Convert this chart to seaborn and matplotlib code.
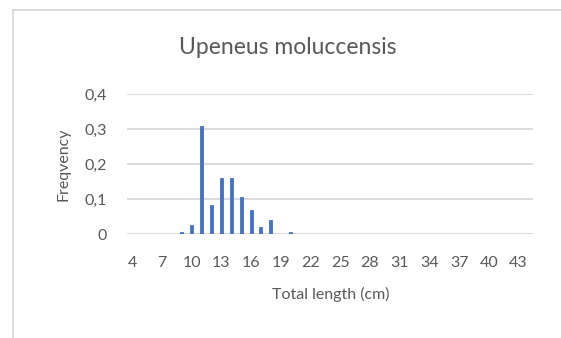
import matplotlib
matplotlib.use("Agg")
import matplotlib.pyplot as plt
import seaborn as sns
import pandas as pd

# Length classes (cm) and relative frequency of each class
lengths = list(range(4, 45))
frequency = [
    0, 0, 0, 0, 0, 0.006, 0.027, 0.309, 0.084, 0.161,   # 4-13
    0.161, 0.105, 0.069, 0.020, 0.041, 0, 0.006, 0, 0, 0,  # 14-23
    0, 0, 0, 0, 0, 0, 0, 0, 0, 0,                        # 24-33
    0, 0, 0, 0, 0, 0, 0, 0, 0, 0, 0,                     # 34-44
]
y_ticks = [0, 0.1, 0.2, 0.3, 0.4]
y_tick_labels = ["0", "0,1", "0,2", "0,3", "0,4"]
title = "Upeneus moluccensis"
x_label = "Total length (cm)"
y_label = "Freqvency"

sns.set_theme(style="white")
plt.rcParams["font.family"] = ["Lato", "DejaVu Sans"]

text_color = "#595959"
grid_color = "#D9D9D9"
bar_color = "#4472C4"

df = pd.DataFrame({"length": [str(v) for v in lengths], "freq": frequency})

fig = plt.figure(figsize=(5.61, 3.38), dpi=100)
ax = fig.add_axes([0.2269, 0.3068, 0.9506 - 0.2269, 0.7219 - 0.3068])

sns.barplot(data=df, x="length", y="freq", order=df["length"], color=bar_color,
            width=0.3, saturation=1, linewidth=0.6, edgecolor=bar_color,
            ax=ax, zorder=3)

ax.set_xlim(-0.5, len(lengths) - 0.5)
ax.set_ylim(0, 0.4)
ax.set_yticks(y_ticks)
ax.set_yticklabels(y_tick_labels)

# label every third length class
tick_pos = list(range(0, len(lengths), 3))
ax.set_xticks(tick_pos)
ax.set_xticklabels([str(lengths[i]) for i in tick_pos])

for y in y_ticks:
    ax.axhline(y, color=grid_color, linewidth=1.3, zorder=1)

for side in ["top", "right", "left", "bottom"]:
    ax.spines[side].set_visible(False)

ax.tick_params(axis="both", length=0, labelsize=11.5, labelcolor=text_color)
ax.tick_params(axis="y", pad=14.5)
ax.tick_params(axis="x", pad=15.5)

ax.set_xlabel(x_label, fontsize=11.5, color=text_color, labelpad=12)
ax.set_ylabel(y_label, fontsize=11.5, color=text_color, labelpad=10)
fig.text(0.513, 0.858, title, ha="center", va="center", fontsize=16.5, color=text_color)

# chart area outline (left and top edges fall inside the image)
fig.add_artist(plt.Line2D([12.7 / 561, 12.7 / 561], [0, 1 - 9.7 / 338],
                          transform=fig.transFigure, color=grid_color, linewidth=1.3))
fig.add_artist(plt.Line2D([12.7 / 561, 1], [1 - 9.7 / 338, 1 - 9.7 / 338],
                          transform=fig.transFigure, color=grid_color, linewidth=1.3))

fig.savefig("out.png", dpi=100)
